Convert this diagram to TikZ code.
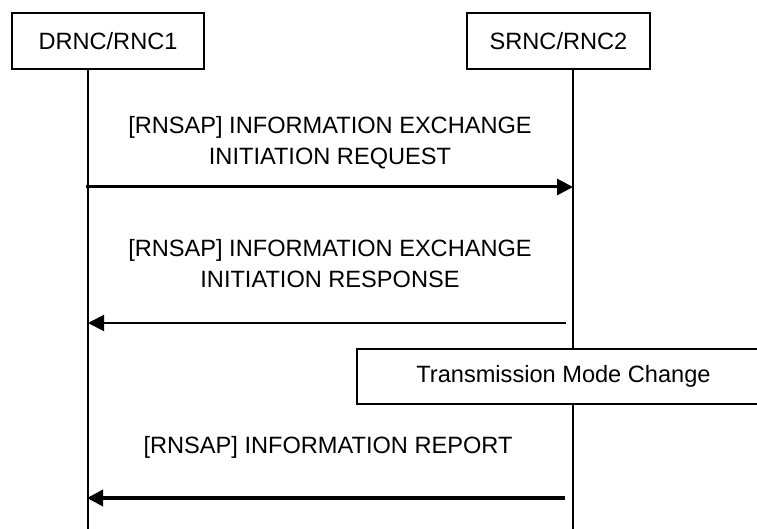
\documentclass[tikz,border=0pt]{standalone}
\usepackage{fontspec}
\setmainfont{Liberation Sans}
\usepackage{tikz}
\usetikzlibrary{arrows.meta}

\tikzset{
  entity/.style={draw, line width=1.3bp, fill=white, inner sep=0pt,
    font=\fontsize{23.6bp}{29bp}\selectfont},
  msglabel/.style={align=center, inner sep=0pt, anchor=north,
    font=\fontsize{23.6bp}{31bp}\selectfont},
  msg/.style={-{Triangle[length=16bp,width=16bp]}},
  lifeline/.style={line width=1.3bp}
}

\begin{document}
\begin{tikzpicture}[x=1bp, y=-1bp]
				\clip (0, 0) rectangle (757, 529);
				% Entities and life lines:
				\node[entity, minimum width=192bp, minimum height=56bp](DRNC) at (108, 41){DRNC/RNC1};
				\node[entity, minimum width=183bp, minimum height=56bp](SRNC) at (558.5, 41){SRNC/RNC2};
				\coordinate (Dtop) at (88, 69);
				\coordinate (Dbot) at (88, 529);
				\coordinate (Stop) at (573, 69);
				\coordinate (Sbot) at (573, 529);
				\draw[lifeline] (Dtop) -- (Dbot);
				\draw[lifeline] (Stop) -- (Sbot);
				% Messages:
				\coordinate (reqD) at (86, 187);
				\coordinate (reqS) at (573, 187);
				\node[msglabel](reqtxt) at (330, 116){[RNSAP] INFORMATION EXCHANGE\\INITIATION REQUEST};
				\draw[msg, line width=3bp] (reqD) -- (reqS);
				\coordinate (rspS) at (566, 323);
				\coordinate (rspD) at (88, 323);
				\node[msglabel](rsptxt) at (330, 239){[RNSAP] INFORMATION EXCHANGE\\INITIATION RESPONSE};
				\draw[msg, line width=2bp] (rspS) -- (rspD);
				\node[entity, minimum width=413bp, minimum height=55bp](TMC) at (563.5, 376.5){Transmission Mode Change};
				\coordinate (repS) at (565, 498);
				\coordinate (repD) at (87, 498);
				\node[msglabel](reptxt) at (328, 436){[RNSAP] INFORMATION REPORT};
				\draw[msg, line width=3.5bp] (repS) -- (repD);
			\end{tikzpicture}
\end{document}
